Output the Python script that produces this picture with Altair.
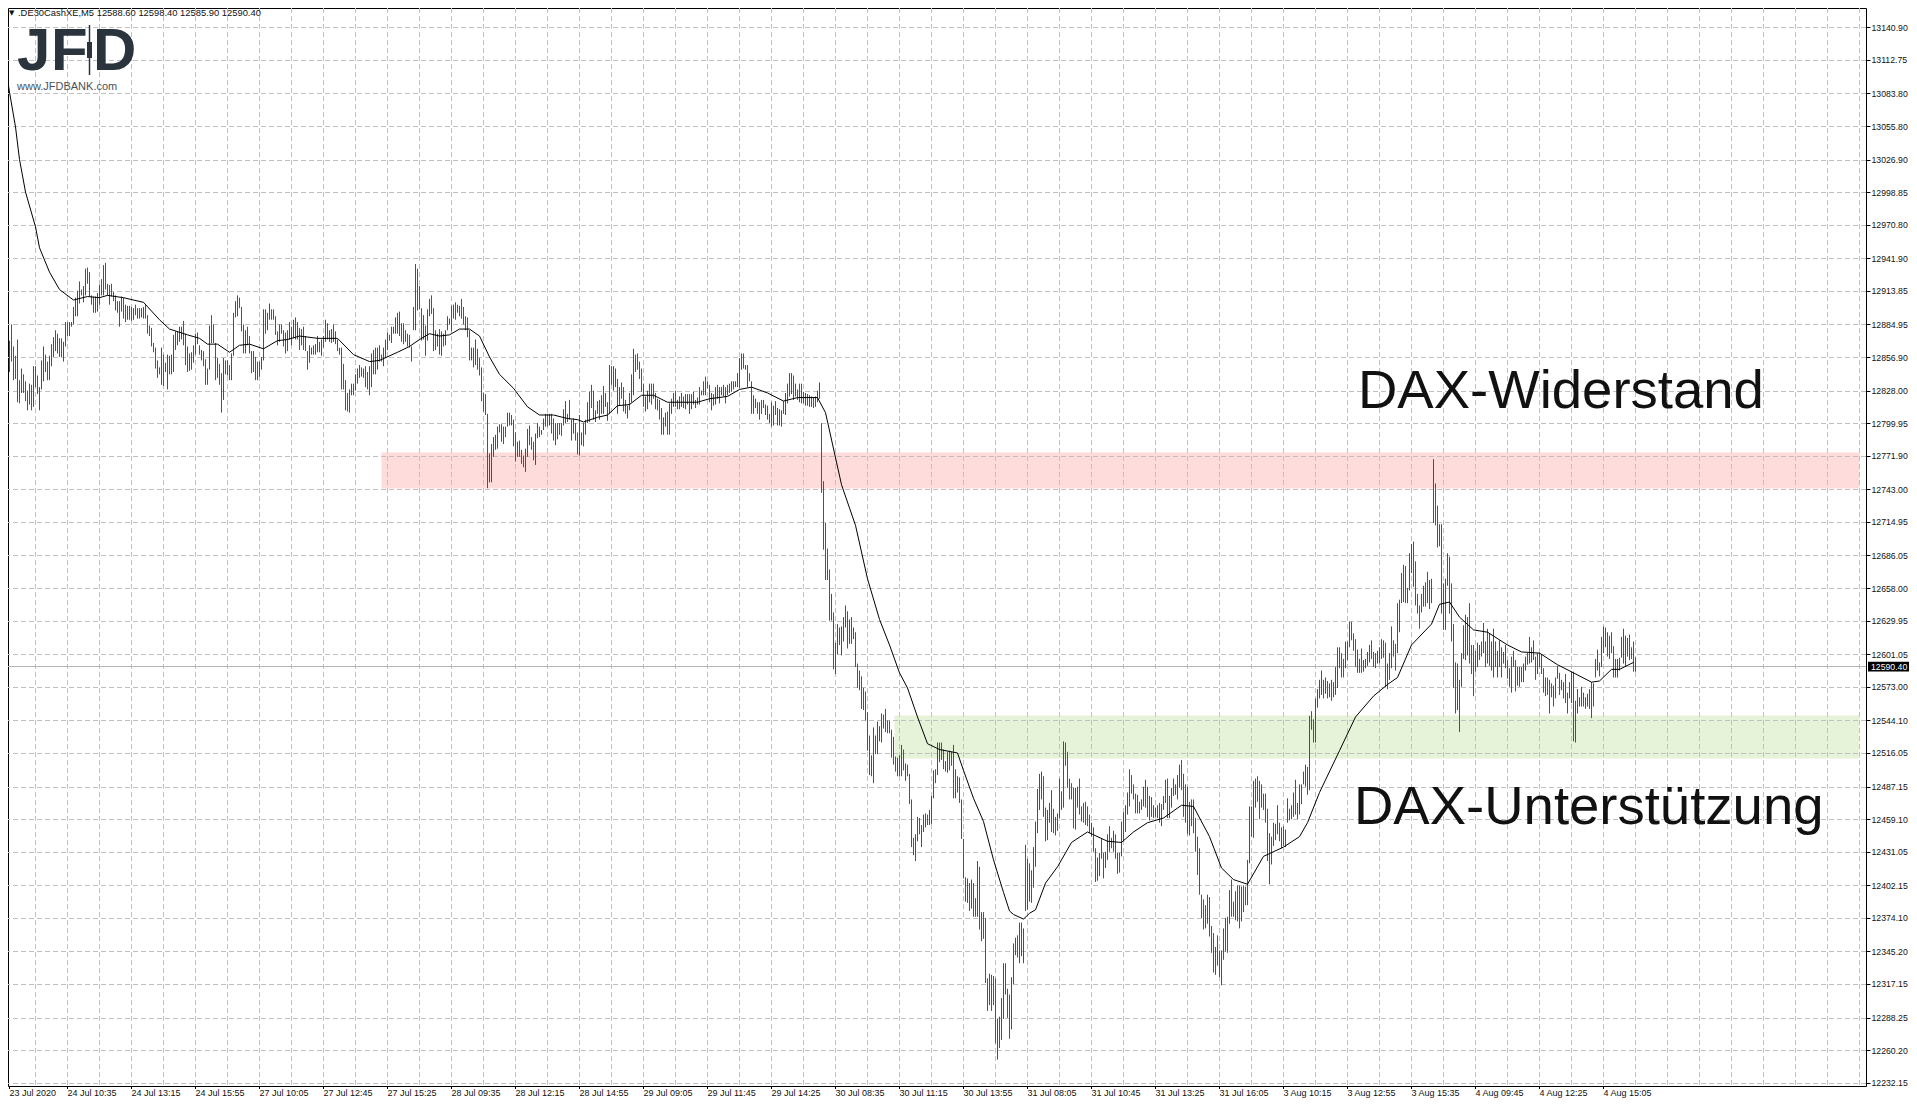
import math
import altair as alt
import pandas as pd

# highs, lows and direction of each 5-minute bar; each row holds 16 bars (one grid cell)
highs = [
[13120,12935,12912,12871,12885,12866,12858,12872,12837,12847,12842,12836,12828,12834,12833,12849],
[12849,12841,12831,12854,12866,12859,12853,12858,12868,12874,12880,12877,12873,12873,12870,12887],
[12887,12887,12887,12900,12908,12914,12922,12915,12918,12933,12934,12930,12910,12909,12909,12912],
[12919,12924,12936,12938,12920,12919,12920,12913,12910,12905,12905,12909,12908,12902,12901,12901],
[12900,12899,12902,12899,12899,12899,12900,12902,12893,12884,12882,12869,12865,12854,12848,12865],
[12859,12852,12859,12858,12859,12876,12879,12879,12883,12883,12888,12877,12866,12860,12861,12867],
[12877,12878,12867,12863,12862,12855,12847,12884,12893,12885,12869,12856,12851,12843,12856,12854],
[12854,12850,12860,12895,12905,12910,12908,12900,12885,12880,12883,12875,12862,12862,12857,12853],
[12853,12857,12898,12898,12895,12903,12898,12898,12892,12879,12885,12885,12880,12878,12880,12887],
[12883,12889,12891,12887,12882,12881,12883,12875,12862,12867,12865,12867,12868,12875,12870,12872],
[12875,12889,12886,12880,12881,12885,12879,12872,12865,12865,12851,12837,12826,12829,12834,12834],
[12842,12847,12850,12848,12847,12849,12844,12849,12860,12863,12865,12865,12867,12859,12865,12872],
[12878,12876,12883,12883,12891,12895,12896,12886,12886,12880,12877,12876,12866,12900,12937,12933],
[12918,12899,12893,12884,12898,12907,12910,12899,12880,12877,12881,12879,12877,12880,12892,12890],
[12901,12902,12904,12902,12901,12907,12900,12892,12891,12880,12865,12865,12872,12864,12856,12848],
[12826,12825,12808,12774,12782,12788,12790,12797,12799,12799,12797,12797,12809,12809,12807,12803],
[12792,12784,12785,12777,12772,12778,12795,12798,12788,12784,12791,12800,12797,12794,12804,12808],
[12808,12808,12808,12804,12800,12800,12800,12800,12812,12819,12808,12820,12803,12804,12800,12792],
[12807,12792,12800,12803,12818,12827,12833,12828,12811,12819,12820,12824,12832,12826,12818,12850],
[12849,12849,12847,12838,12831,12835,12831,12820,12815,12826,12842,12864,12859,12860,12853,12847],
[12834,12823,12828,12834,12834,12834,12826,12821,12820,12813,12805,12809,12810,12817,12821,12826],
[12828,12820,12823,12826,12823,12825,12825,12825,12825,12827,12820,12822,12831,12828,12836,12840],
[12836,12833,12826,12825,12831,12833,12831,12831,12833,12831,12833,12834,12836,12836,12836,12843],
[12856,12860,12860,12850,12850,12843,12836,12824,12821,12818,12818,12820,12820,12816,12815,12808],
[12818,12815,12819,12813,12812,12811,12819,12826,12834,12843,12843,12841,12834,12829,12834,12834],
[12827,12826,12825,12824,12823,12822,12823,12828,12835,12800,12750,12714,12692,12674,12653,12637],
[12611,12627,12624,12625,12633,12643,12638,12631,12633,12624,12620,12593,12587,12582,12572,12569],
[12551,12531,12514,12538,12531,12543,12539,12550,12549,12554,12544,12544,12536,12530,12513,12512],
[12514,12523,12519,12507,12506,12498,12476,12443,12446,12461,12460,12454,12463,12464,12463,12467],
[12479,12501,12502,12525,12525,12525,12519,12509,12517,12518,12517,12523,12502,12496,12495,12476],
[12442,12409,12408,12404,12407,12404,12391,12423,12418,12379,12379,12374,12322,12326,12325,12324],
[12322,12287,12289,12305,12335,12335,12313,12308,12323,12352,12357,12359,12370,12370,12365,12437],
[12425,12421,12415,12435,12457,12485,12498,12500,12496,12469,12467,12473,12484,12468,12461,12464],
[12494,12483,12526,12525,12517,12494,12490,12486,12486,12487,12494,12470,12473,12474,12470,12463],
[12456,12452,12434,12426,12430,12442,12430,12431,12446,12453,12443,12449,12446,12430,12430,12457],
[12465,12471,12482,12502,12497,12489,12481,12480,12474,12476,12487,12493,12487,12479,12478,12471],
[12469,12471,12473,12472,12479,12493,12494,12479,12486,12494,12489,12497,12506,12510,12498,12489],
[12487,12474,12476,12476,12460,12444,12434,12394,12390,12385,12394,12392,12367,12361,12349,12359],
[12346,12346,12365,12374,12375,12398,12407,12388,12397,12402,12402,12401,12402,12401,12424,12470],
[12470,12492,12494,12496,12492,12489,12481,12481,12468,12447,12444,12456,12455,12471,12456,12452],
[12453,12450,12477,12468,12471,12482,12493,12473,12489,12489,12500,12506,12504,12548,12552,12545],
[12563,12571,12579,12587,12579,12581,12578,12576,12579,12577,12590,12607,12607,12602,12597,12612],
[12612,12629,12629,12619,12614,12605,12597,12606,12596,12597,12603,12609,12613,12603,12602,12604],
[12607,12614,12613,12611,12593,12602,12625,12613,12610,12645,12648,12671,12678,12677,12658,12688],
[12696,12698,12681,12653,12643,12653,12660,12663,12672,12665,12666,12769,12748,12729,12713,12713],
[12662,12666,12688,12685,12662,12627,12594,12593,12579,12602,12626,12635,12633,12645,12609,12609],
[12604,12611,12609,12612,12628,12612,12623,12619,12612,12623,12612,12604,12613,12607,12603,12609],
[12596,12589,12599,12604,12596,12590,12590,12590,12593,12599,12602,12616,12607,12613,12599,12602],
[12602,12601,12589,12581,12581,12579,12576,12574,12581,12591,12585,12579,12577,12584,12568,12577],
[12586,12586,12561,12571,12564,12573,12568,12564,12567,12571,12577,12576,12597,12605,12594,12616],
[12625,12624,12620,12617,12620,12608,12597,12597,12598,12616,12623,12617,12615,12618,12607,12612],
[12598.4],
]
lows = [
[13103,12892,12866,12844,12853,12837,12838,12818,12817,12826,12826,12819,12811,12816,12811,12814],
[12831,12825,12811,12829,12836,12844,12837,12837,12849,12857,12862,12860,12857,12857,12853,12866],
[12875,12875,12883,12885,12892,12892,12903,12910,12904,12910,12920,12909,12902,12895,12895,12896],
[12902,12910,12910,12915,12910,12902,12909,12905,12897,12895,12883,12896,12890,12887,12889,12889],
[12888,12889,12893,12890,12890,12891,12890,12890,12877,12875,12866,12861,12847,12839,12842,12833],
[12832,12844,12829,12842,12842,12844,12863,12867,12870,12872,12867,12850,12844,12845,12846,12852],
[12859,12868,12859,12854,12849,12833,12833,12846,12869,12869,12837,12839,12833,12809,12820,12842],
[12841,12837,12837,12858,12891,12892,12899,12879,12860,12860,12867,12860,12843,12844,12837,12837],
[12840,12846,12854,12877,12880,12889,12889,12889,12876,12867,12870,12877,12866,12860,12862,12872],
[12867,12873,12872,12872,12863,12867,12863,12862,12846,12852,12859,12859,12859,12861,12861,12858],
[12865,12870,12872,12870,12869,12870,12868,12862,12859,12829,12829,12811,12810,12809,12824,12824],
[12828,12834,12839,12840,12839,12831,12829,12824,12831,12842,12842,12846,12853,12853,12849,12856],
[12863,12871,12869,12877,12877,12877,12875,12870,12868,12870,12866,12865,12853,12880,12880,12897],
[12898,12871,12872,12858,12871,12892,12894,12862,12863,12866,12859,12858,12866,12867,12880,12885],
[12879,12890,12889,12895,12892,12890,12885,12880,12874,12854,12854,12848,12850,12846,12841,12819],
[12810,12807,12744,12749,12749,12771,12777,12778,12792,12784,12782,12788,12797,12798,12798,12780],
[12767,12771,12771,12765,12762,12758,12771,12781,12777,12768,12764,12787,12788,12790,12794,12797],
[12797,12798,12791,12785,12781,12786,12790,12789,12798,12800,12801,12803,12785,12791,12785,12773],
[12772,12781,12780,12790,12800,12801,12813,12803,12801,12808,12803,12808,12808,12814,12802,12808],
[12833,12828,12831,12808,12815,12821,12810,12808,12804,12811,12818,12824,12844,12846,12838,12827],
[12814,12810,12812,12818,12816,12821,12812,12811,12803,12790,12790,12797,12790,12790,12808,12814],
[12814,12812,12812,12814,12813,12812,12816,12808,12812,12816,12813,12816,12816,12824,12824,12824],
[12830,12818,12811,12815,12816,12821,12817,12824,12823,12817,12824,12826,12827,12829,12831,12831],
[12830,12846,12847,12846,12831,12836,12808,12808,12813,12808,12803,12808,12813,12807,12803,12800],
[12797,12798,12807,12798,12798,12797,12808,12807,12817,12823,12825,12820,12823,12820,12818,12817],
[12817,12815,12815,12814,12814,12813,12814,12818,12821,12740,12691,12665,12665,12630,12630,12588],
[12584,12601,12609,12600,12612,12624,12606,12610,12610,12614,12590,12572,12570,12554,12553,12544],
[12518,12497,12496,12490,12515,12515,12526,12525,12537,12534,12533,12533,12512,12506,12500,12496],
[12496,12496,12501,12492,12496,12472,12435,12428,12423,12440,12446,12435,12448,12452,12454,12454],
[12455,12477,12490,12497,12508,12510,12502,12500,12499,12501,12505,12477,12477,12482,12473,12442],
[12408,12388,12387,12380,12382,12375,12375,12375,12364,12354,12356,12318,12294,12299,12294,12299],
[12266,12252,12262,12269,12287,12308,12288,12270,12278,12317,12342,12340,12335,12341,12335,12380],
[12381,12388,12387,12400,12418,12447,12467,12476,12461,12440,12441,12456,12448,12447,12445,12449],
[12460,12467,12469,12505,12486,12476,12476,12451,12450,12469,12463,12457,12456,12454,12453,12447],
[12444,12431,12405,12406,12410,12425,12408,12417,12424,12431,12434,12431,12425,12412,12413,12427],
[12440,12448,12463,12470,12481,12476,12464,12464,12464,12467,12470,12469,12461,12458,12461,12460],
[12461,12460,12456,12453,12467,12473,12460,12460,12469,12479,12480,12476,12486,12484,12461,12456],
[12446,12445,12453,12447,12431,12411,12394,12374,12364,12365,12369,12358,12344,12327,12325,12333],
[12323,12316,12338,12345,12344,12369,12375,12375,12372,12371,12365,12371,12379,12385,12385,12421],
[12444,12443,12469,12474,12459,12469,12467,12456,12423,12403,12420,12436,12441,12446,12440,12434],
[12436,12435,12456,12458,12459,12461,12463,12459,12463,12472,12489,12487,12480,12484,12536,12525],
[12525,12555,12563,12566,12563,12567,12563,12564,12561,12564,12566,12572,12589,12581,12581,12589],
[12596,12607,12613,12604,12590,12585,12585,12585,12586,12589,12591,12594,12597,12590,12589,12593],
[12593,12597,12598,12573,12571,12579,12589,12599,12587,12602,12620,12645,12646,12645,12645,12656],
[12671,12659,12643,12636,12623,12637,12642,12642,12645,12640,12645,12714,12712,12693,12694,12636],
[12622,12622,12660,12636,12612,12572,12550,12553,12534,12573,12597,12596,12600,12593,12584,12565],
[12586,12590,12596,12599,12602,12590,12593,12591,12587,12581,12590,12581,12590,12581,12593,12589],
[12580,12573,12568,12590,12569,12574,12573,12577,12577,12587,12592,12593,12594,12596,12579,12584],
[12590,12584,12568,12565,12566,12550,12564,12556,12563,12580,12566,12570,12563,12559,12550,12563],
[12559,12526,12525,12550,12556,12556,12556,12554,12556,12554,12546,12556,12581,12587,12582,12590],
[12602,12607,12599,12597,12602,12581,12581,12581,12587,12598,12593,12590,12599,12596,12597,12586],
[12585.9],
]
dirs = [
"uddu dddd uudd dudu","dduu uddu uudu dduu","duuu uuud dudu dduu","udud uddd dddu dduu",
"dudu uuud dddu dddu","ddud uuuu uudd duud","uddd dddu dddu ddud","uduu uudd dudd dddd",
"uuud uudd ddud dduu","dudu dddd duud uudu","uuud udud dddd duud","uuud uddd uddu dduu",
"udud uuud uudd ddud","ddud uudd dddu duuu","uuud uddd ddud uddd","dddu uuuu dudd uddd",
"dudd duuu dduu duuu","dudd uddd uudd dudd","uuud uudu dudu dduu","duuu udud uduu dddd",
"duuu ddud dduu duuu","dduu dudd uudu udud","dddd uddu uddu uuuu","uudu dddu udud uudu",
"uudu uduu duud uddd","dddd dddu uddd ddud","uudu uudu dudd udud","dduu duuu dddd dddu",
"dudu dddd uudu uudu","uudu uddu uddd uddd","ddud uduu dudd dudd","dudu uddd uuud udud",
"uudu uuuu dduu dddu","udud dddd uudu dddd","uddu uudu uudu dddu","uuuu dddd uuud dddu",
"uddd uudd uuuu uddd","uudd dddd ddud ddud","duuu dudu uddu dduu","duud dudd dudu uudd",
"ddud uudu uuuu dudd","uuuu dudu duuu uddu","uudd ddud uuuu dddu","uudd uuud duuu dduu",
"uddd duud duuu ddud","ddud dddu uuuu uddd","uuud uudu uudu uduu","ddud duuu uudu uddu",
"dddu dddu dudu uddu","uduu uudd uddu uudu","uddd dduu uuuu dudd","u",
]
# moving average, read at these bar numbers
ma_bar = [0,3,6,8,11,16,18,23,28,35,42,48,52,60,70,78,83,92,98,102,107,113,118,123,130,137,142,148,157,167,175,183,188,197,203,208,213,218,223,228,233,238,243,248,255,262,268,275,282,287,290,297,302,307,313,319,325,332,340,347,353,362,368,374,382,390,397,407,411,419,426,432,438,443,448,452,457,462,468,477,480,485,490,495,500,503,505,510,513,516,521,527,534,542,552,559,565,572,580,589,595,603,609,615,622,630,640,648,652,658,668,676,685,692,697,704,714,718,723,728,735,742,752,759,768,777,785,794,798,804,808,815]
ma_val = [13117,13085,13055,13027,12999,12969,12951,12930,12915,12906,12909,12908,12910,12908,12904,12889,12881,12876,12873,12868,12868,12861,12867,12868,12864,12871,12872,12875,12873,12873,12859,12853,12854,12861,12866,12872,12877,12875,12876,12881,12881,12875,12857,12842,12830,12814,12807,12807,12804,12803,12801,12805,12807,12815,12816,12824,12824,12818,12818,12818,12821,12823,12829,12831,12826,12819,12822,12822,12809,12747,12712,12666,12631,12609,12585,12572,12547,12524,12519,12516,12501,12477,12457,12424,12396,12380,12377,12373,12378,12381,12404,12418,12439,12448,12440,12439,12448,12456,12460,12471,12470,12444,12417,12407,12403,12427,12435,12444,12456,12482,12518,12547,12565,12575,12581,12609,12627,12644,12646,12633,12622,12620,12609,12603,12602,12592,12585,12577,12578,12588,12588,12594]

y_ticks = [13140.90,13112.75,13083.80,13055.80,13026.90,12998.85,12970.80,12941.90,12913.85,12884.95,12856.90,12828.00,12799.95,12771.90,12743.00,12714.95,12686.05,12658.00,12629.95,12601.05,12573.00,12544.10,12516.05,12487.15,12459.10,12431.05,12402.15,12374.10,12345.20,12317.15,12288.25,12260.20,12232.15]
x_labels = ["23 Jul 2020","24 Jul 10:35","24 Jul 13:15","24 Jul 15:55","27 Jul 10:05","27 Jul 12:45","27 Jul 15:25","28 Jul 09:35","28 Jul 12:15","28 Jul 14:55","29 Jul 09:05","29 Jul 11:45","29 Jul 14:25","30 Jul 08:35","30 Jul 11:15","30 Jul 13:55","31 Jul 08:05","31 Jul 10:45","31 Jul 13:25","31 Jul 16:05","3 Aug 10:15","3 Aug 12:55","3 Aug 15:35","4 Aug 09:45","4 Aug 12:25","4 Aug 15:05"]
x_tick_bars = [3] + [32 * k for k in range(1, len(x_labels))]
x_grid_bars = [16 * k for k in range(1, 59)]
last_price = 12590.40
resistance = (12743.7, 12774.7, 189, 928)
support = (12511.2, 12548.3, 445.5, 928)

PLOT_W, PLOT_H = 1858, 1078
Y_TOP, Y_BOTTOM = 13157.41, 12229.30

rows = []
for r, (hs, ls, ds) in enumerate(zip(highs, lows, dirs)):
    ds = ds.replace(" ", "")
    for j in range(min(len(hs), len(ls), len(ds))):
        rows.append({"bar": r * 16 + j, "high": hs[j], "low": ls[j], "dir": ds[j]})
bars_df = pd.DataFrame(rows)

X_SCALE = alt.Scale(domain=[2.25, 931.25], nice=False, zero=False)
Y_SCALE = alt.Scale(domain=[Y_BOTTOM, Y_TOP], nice=False, zero=False)
FONT = "Liberation Sans"

x_axis = alt.Axis(values=x_tick_bars, labelExpr=f"{x_labels!r}[floor(datum.value/32)]", title=None, grid=False,
                  domain=False, tickColor="black", tickSize=3, tickRound=False, translate=0,
                  labelAlign="left", labelFont=FONT, labelFontSize=9,
                  labelColor="#111111", labelPadding=0, labelOverlap=False, labelBound=False, labelFlush=False)
y_axis = alt.Axis(orient="right", values=y_ticks, format=".2f", title=None, grid=False, domain=False,
                  tickColor="black", tickSize=4, labelFont=FONT, labelFontSize=8.7, labelColor="#111111",
                  labelPadding=1, labelOverlap=False, labelBound=False, labelFlush=False)

def sx(field):
    return alt.X(field, scale=X_SCALE, axis=x_axis)

def sy(field):
    return alt.Y(field, scale=Y_SCALE, axis=y_axis)

def band(lo, hi, x0, x1, color):
    d = pd.DataFrame([{"y": lo, "y2": hi, "x": x0, "x2": x1}])
    return alt.Chart(d).mark_rect(color=color, clip=True).encode(
        x=sx("x:Q"), x2="x2:Q", y=sy("y:Q"), y2="y2:Q")

# horizontal lines sit on whole device pixels, as in the terminal's own drawing
def snapped(p, rounding=round):
    py = rounding((Y_TOP - p) / (Y_TOP - Y_BOTTOM) * PLOT_H) + 0.5
    return Y_TOP - py / PLOT_H * (Y_TOP - Y_BOTTOM)

dash = [5, 3]
GRID = "#c0c0c0"
grid_v = alt.Chart(pd.DataFrame({"bar": x_grid_bars})).mark_rule(color=GRID, strokeDash=dash, strokeWidth=1, clip=True).encode(
    x=sx("bar:Q"))
grid_h = alt.Chart(pd.DataFrame({"p": [snapped(p) for p in y_ticks]})).mark_rule(color=GRID, strokeDash=dash, strokeWidth=1, clip=True).encode(
    y=sy("p:Q"))
price_line = alt.Chart(pd.DataFrame({"p": [snapped(last_price, math.floor)]})).mark_rule(color="#b4b4b4", strokeWidth=1).encode(
    y=sy("p:Q"))
bars = alt.Chart(bars_df).mark_rule(strokeWidth=1, clip=True).encode(
    x=sx("bar:Q"), y=sy("low:Q"), y2="high:Q",
    color=alt.Color("dir:N", scale=alt.Scale(domain=["u", "d"], range=["#127a12", "#e81414"]), legend=None))
ma = alt.Chart(pd.DataFrame({"bar": ma_bar, "v": ma_val})).mark_line(color="black", strokeWidth=1, clip=True).encode(
    x=sx("bar:Q"), y=sy("v:Q"))

def text(s, x, y, size, color="#111111", weight="normal", font=FONT):
    return alt.Chart(pd.DataFrame({"t": [s]})).mark_text(align="left", baseline="middle", fontSize=size, color=color,
                                                         fontWeight=weight, font=font).encode(
        text="t:N", x=alt.value(x), y=alt.value(y))

LOGO = "#2b343c"
price_box = alt.Chart(pd.DataFrame({"a": [last_price - 4.2], "b": [last_price + 4.2]})).mark_rect(color="black").encode(
    x=alt.value(1860), x2=alt.value(1901), y=sy("a:Q"), y2="b:Q")
price_text = alt.Chart(pd.DataFrame({"p": [last_price], "t": ["12590.40"]})).mark_text(
    align="left", baseline="middle", fontSize=8.7, font=FONT, color="white").encode(
    x=alt.value(1863), y=sy("p:Q"), text="t:N")
candle_wick = alt.Chart(pd.DataFrame({"k": [0]})).mark_rule(color=LOGO, strokeWidth=1.5).encode(
    x=alt.value(81.5), y=alt.value(17), y2=alt.value(67))
candle_body = alt.Chart(pd.DataFrame({"k": [0]})).mark_rect(color=LOGO).encode(
    x=alt.value(79), x2=alt.value(84), y=alt.value(34), y2=alt.value(50))

chart = alt.layer(
    band(resistance[0], resistance[1], resistance[2], resistance[3], "#ffdcdc"),
    band(support[0], support[1], support[2], support[3], "#e6f3d9"),
    grid_v, grid_h, price_line, bars, ma, price_box, price_text,
    text("\u25bc", 1, 5, 7, font="DejaVu Sans"),
    text(".DE30CashXE,M5  12588.60 12598.40 12585.90 12590.40", 10, 5, 9.4),
    text("J", 9, 44, 60, LOGO, "bold"),
    text("F", 43, 44, 60, LOGO, "bold"),
    text("D", 85, 44, 60, LOGO, "bold"),
    candle_wick, candle_body,
    text("www.JFDBANK.com", 9, 79, 11, "#4a5259"),
    text("DAX-Widerstand", 1350, 384, 54.5),
    text("DAX-Unterst\u00fctzung", 1346, 800, 54.5),
).properties(
    width=PLOT_W, height=PLOT_H,
    padding={"left": 0, "top": 0, "right": 43, "bottom": 13},
    autosize=alt.AutoSizeParams(type="none"),
).configure_view(stroke="black", strokeWidth=1)

chart.save("out.html", embed_options={"renderer": "svg", "actions": False})
